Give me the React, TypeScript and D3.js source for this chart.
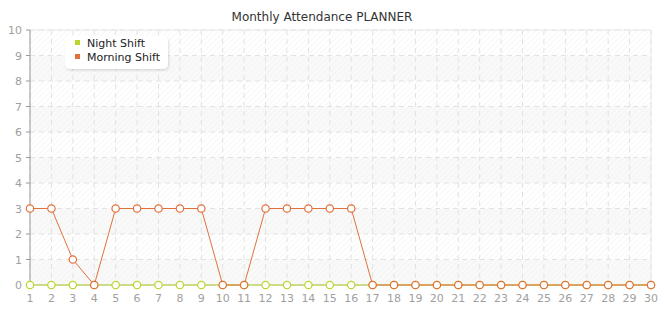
import React from "react";
import * as d3 from "d3";

const days = d3.range(1, 31);
const nightShift = [0,0,0,0,0,0,0,0,0,0,0,0,0,0,0,0,0,0,0,0,0,0,0,0,0,0,0,0,0,0];
const morningShift = [3,3,1,0,3,3,3,3,3,0,0,3,3,3,3,3,0,0,0,0,0,0,0,0,0,0,0,0,0,0];
const yTicks = d3.range(0, 11);
const title = "Monthly Attendance PLANNER";
const seriesNames = ["Night Shift", "Morning Shift"];
const colors = ["#b9d62e", "#e2703a"];

export default function App() {
  const W = 665, H = 320;
  const x = d3.scaleLinear().domain([1, 30]).range([30, 651]);
  const y = d3.scaleLinear().domain([0, 10]).range([285, 30]);
  const line = d3.line<number>().x((_, i) => x(days[i])).y(d => y(d));
  const font = "DejaVu Sans, Verdana, sans-serif";
  const series = [nightShift, morningShift];
  return (
    <svg width={W} height={H} style={{ position: "absolute", left: 0, top: 0 }} fontFamily={font}>
      <defs>
        <pattern id="hatch" width="4" height="4" patternUnits="userSpaceOnUse" patternTransform="rotate(45)">
          <line x1="0" y1="0" x2="0" y2="4" stroke="#efefef" strokeWidth="1" />
        </pattern>
        <filter id="shadow" x="-20%" y="-30%" width="140%" height="160%">
          <feDropShadow dx="1" dy="1.5" stdDeviation="1.2" floodColor="#000" floodOpacity="0.13" />
        </filter>
      </defs>
      <rect width={W} height={H} fill="#fff" />
      <text x={322} y={21} textAnchor="middle" fontSize={12} fill="#333">{title}</text>
      {yTicks.slice(0, -1).map(t => (
        <rect key={"b" + t} x={30} y={y(t + 1)} width={621} height={y(t) - y(t + 1)} fill={t % 2 === 0 ? "#f9f9f9" : "#fff"} />
      ))}
      <rect x={30} y={30} width={621} height={255} fill="url(#hatch)" />
      {yTicks.map(t => (
        <line key={"h" + t} x1={30} x2={651} y1={y(t)} y2={y(t)} stroke="#e2e2e2" strokeDasharray="5,4" />
      ))}
      {days.map(d => (
        <line key={"v" + d} x1={x(d)} x2={x(d)} y1={30} y2={285} stroke="#e2e2e2" strokeDasharray="5,4" />
      ))}
      <line x1={651} x2={651} y1={30} y2={285} stroke="#e8e8e8" />
      <line x1={30} x2={651} y1={30} y2={30} stroke="#e8e8e8" />
      <line x1={30} x2={30} y1={30} y2={285} stroke="#999" />
      <line x1={30} x2={651} y1={285} y2={285} stroke="#ccc" />
      {yTicks.map(t => (
        <g key={"yt" + t}>
          <line x1={26} x2={30} y1={y(t)} y2={y(t)} stroke="#999" />
          <text x={22} y={y(t) + 4} textAnchor="end" fontSize={11} fill="#a0a0a0">{t}</text>
        </g>
      ))}
      {days.map(d => (
        <g key={"xt" + d}>
          <line x1={x(d)} x2={x(d)} y1={285} y2={289} stroke="#ccc" />
          <text x={x(d)} y={302} textAnchor="middle" fontSize={11} fill="#a0a0a0">{d}</text>
        </g>
      ))}
      {series.map((s, si) => (
        <g key={"s" + si}>
          <path d={line(s) || ""} fill="none" stroke={colors[si]} strokeWidth={1} />
          {s.map((v, i) => (
            <circle key={i} cx={x(days[i])} cy={y(v)} r={3.7} fill="#fff" stroke={colors[si]} strokeWidth={1.2} />
          ))}
        </g>
      ))}
      <g filter="url(#shadow)">
        <rect x={65} y={36} width={103} height={33} rx={5} fill="#fff" />
      </g>
      {seriesNames.map((n, i) => (
        <g key={"l" + i}>
          <rect x={75} y={40 + i * 14} width={5} height={5} fill={colors[i]} />
          <text x={87} y={47 + i * 14} fontSize={11} fill="#222">{n}</text>
        </g>
      ))}
    </svg>
  );
}
